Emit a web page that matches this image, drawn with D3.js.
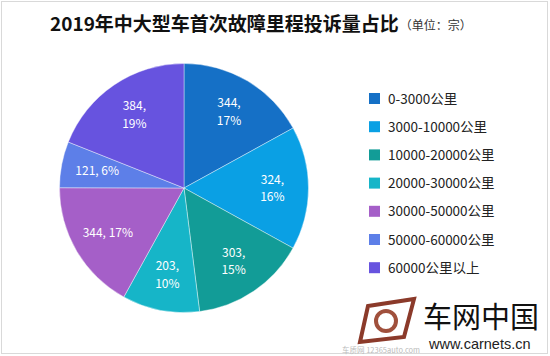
<!DOCTYPE html>
<html><head><meta charset="utf-8">
<script src="https://cdn.jsdelivr.net/npm/d3@7"></script>
<style>
html,body{margin:0;padding:0;background:#fff;}
svg{display:block;}
</style></head>
<body>
<svg id="chart" width="550" height="356"></svg>
<script>
const categories = ["0-3000公里","3000-10000公里","10000-20000公里","20000-30000公里","30000-50000公里","50000-60000公里","60000公里以上"];
const values = [344, 324, 303, 203, 344, 121, 384];
const colors = ["#1570C6","#0AA0E4","#129C97","#16B5C8","#A55FC8","#5D7FE8","#6753DF"];
const singleLine = [false,false,false,false,true,true,false];
const titleText = "2019年中大型车首次故障里程投诉量占比";
const unitText = "（单位：宗）";

const svg = d3.select("#chart");
const font = "'Noto Sans CJK SC','Noto Sans',sans-serif";

// border
svg.append("rect").attr("x",1.5).attr("y",1.5).attr("width",546).attr("height",352)
  .attr("fill","#fff").attr("stroke","#d9d9d9").attr("stroke-width",1);

// title
const title = svg.append("text").attr("x",50).attr("y",31).attr("font-family",font)
  .attr("fill","#111");
title.append("tspan").attr("font-size",19).attr("font-weight","bold").text(titleText);
title.append("tspan").attr("font-size",12).attr("fill","#333").attr("dx",1).attr("dy",-1).text(unitText);

// pie
const cx = 184, cy = 188, R = 124.5;
const total = d3.sum(values);
const pie = d3.pie().sort(null).value(d => d)(values);
const arc = d3.arc().innerRadius(0).outerRadius(R);
const labelArc = d3.arc().innerRadius(R*0.71).outerRadius(R*0.71);
const g = svg.append("g").attr("transform",`translate(${cx},${cy})`);
g.selectAll("path").data(pie).join("path")
  .attr("d",arc).attr("fill",(d,i)=>colors[i])
  .attr("stroke","#fff").attr("stroke-width",0.4);

const labels = g.selectAll("g.lbl").data(pie).join("g")
  .attr("class","lbl")
  .attr("transform",d=>{const c=labelArc.centroid(d);return `translate(${c[0]},${c[1]})`;});
labels.each(function(d,i){
  const pct = Math.round(d.data/total*100)+"%";
  const t = d3.select(this);
  const lines = singleLine[i] ? [`${d.data}, ${pct}`] : [`${d.data},`, pct];
  const step = 17.5;
  const y0 = -(lines.length-1)*step/2;
  lines.forEach((s,k)=>{
    t.append("text").attr("x",0).attr("y",y0+k*step).attr("dy","0.35em")
      .attr("font-family",font).attr("font-size",12).attr("fill","#fff")
      .attr("text-anchor","middle").text(s);
  });
});

// legend
const legend = svg.append("g").attr("transform","translate(369,93)");
const row = legend.selectAll("g").data(categories).join("g")
  .attr("transform",(d,i)=>`translate(0,${i*28.2})`);
row.append("rect").attr("width",11).attr("height",11).attr("fill",(d,i)=>colors[i]);
row.append("text").attr("x",19).attr("y",10.5).attr("font-family",font)
  .attr("font-size",13.5).attr("fill","#222").text(d=>d);

// logo watermark
const logo = svg.append("g");
logo.append("path")
  .attr("d","M368,306 L414,299 L404,337 L360,342 Z")
  .attr("fill","none").attr("stroke","#8b3a2a").attr("stroke-width",4);
logo.append("circle").attr("cx",386).attr("cy",321).attr("r",10)
  .attr("fill","none").attr("stroke","#a0503c").attr("stroke-width",4);
logo.append("text").attr("x",423).attr("y",328).attr("font-family",font)
  .attr("font-size",29).attr("fill","#111").text("车网中国");
logo.append("text").attr("x",342).attr("y",353).attr("font-family",font)
  .attr("font-size",7.5).attr("fill","#bbb").text("车质网 12365auto.com");
logo.append("text").attr("x",429).attr("y",349).attr("font-family","Arial,'Liberation Sans',sans-serif")
  .attr("font-size",14.5).attr("fill","#222").text("www.carnets.cn");
</script>
</body></html>
